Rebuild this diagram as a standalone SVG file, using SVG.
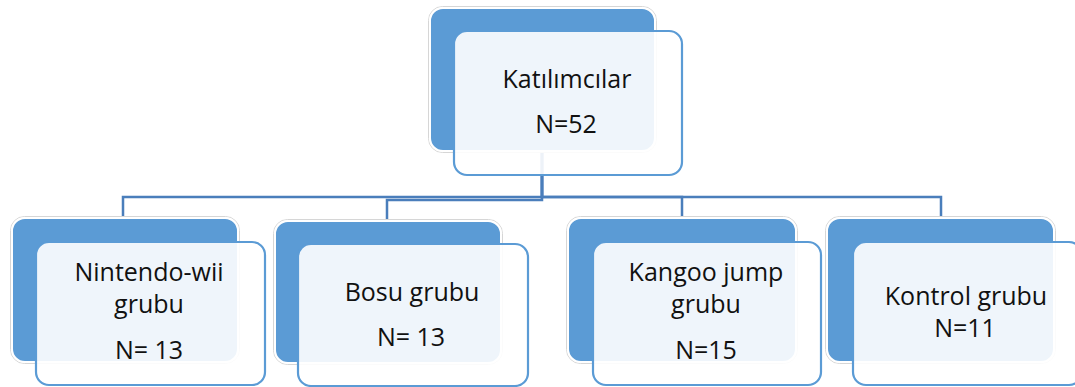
<svg xmlns="http://www.w3.org/2000/svg" width="1075" height="387" viewBox="0 0 1075 387">
<style>
.back{fill:#5b9bd5;stroke:#ffffff;stroke-width:2}
.halo{fill:none;stroke:#d6d6d6;stroke-width:1}
.front{fill:#ffffff;fill-opacity:0.9;stroke:#5b9bd5;stroke-width:2.2}
.conn{fill:none;stroke:#4a7ebb;stroke-width:2.5}
text{font-family:"Open Sans","Liberation Sans",sans-serif;font-size:25px;fill:#111111;text-anchor:middle}
</style>
<rect width="1075" height="387" fill="#ffffff"/>
<g id="connectors">
<path class="conn" d="M542 150 V197 H123 V218"/>
<path class="conn" d="M542 150 V200 H387 V221"/>
<path class="conn" d="M542 150 V197 H682 V218"/>
<path class="conn" d="M542 150 V197 H941 V218"/>
</g>
<g id="node-katilimcilar">
<rect class="halo" x="428.5" y="6.5" width="228" height="146" rx="14"/>
<rect class="back" x="430" y="8" width="225" height="143" rx="13"/>
<rect class="front" x="454" y="31" width="228" height="144" rx="13"/>
<text x="567" y="88">Katılımcılar</text>
<text x="566" y="133">N=52</text>
</g>
<g id="node-nintendo">
<rect class="halo" x="10.5" y="216.5" width="229" height="147" rx="14"/>
<rect class="back" x="12" y="218" width="226" height="144" rx="13"/>
<rect class="front" x="36" y="242" width="229" height="143" rx="13"/>
<text x="149" y="281">Nintendo-wii</text>
<text x="149" y="313">grubu</text>
<text x="149" y="359">N= 13</text>
</g>
<g id="node-bosu">
<rect class="halo" x="273.5" y="219.5" width="229" height="145" rx="14"/>
<rect class="back" x="275" y="221" width="226" height="142" rx="13"/>
<rect class="front" x="298" y="244" width="230" height="142" rx="13"/>
<text x="412" y="301">Bosu grubu</text>
<text x="411" y="346">N= 13</text>
</g>
<g id="node-kangoo">
<rect class="halo" x="566.5" y="216.5" width="231" height="147" rx="14"/>
<rect class="back" x="568" y="218" width="228" height="144" rx="13"/>
<rect class="front" x="593" y="242" width="228" height="143" rx="13"/>
<text x="706" y="281">Kangoo jump</text>
<text x="706" y="313">grubu</text>
<text x="706" y="359">N=15</text>
</g>
<g id="node-kontrol">
<rect class="halo" x="825.5" y="216.5" width="230" height="147" rx="14"/>
<rect class="back" x="827" y="218" width="227" height="144" rx="13"/>
<rect class="front" x="853" y="242" width="229" height="143" rx="13"/>
<text x="966" y="305">Kontrol grubu</text>
<text x="965" y="337">N=11</text>
</g>
</svg>
